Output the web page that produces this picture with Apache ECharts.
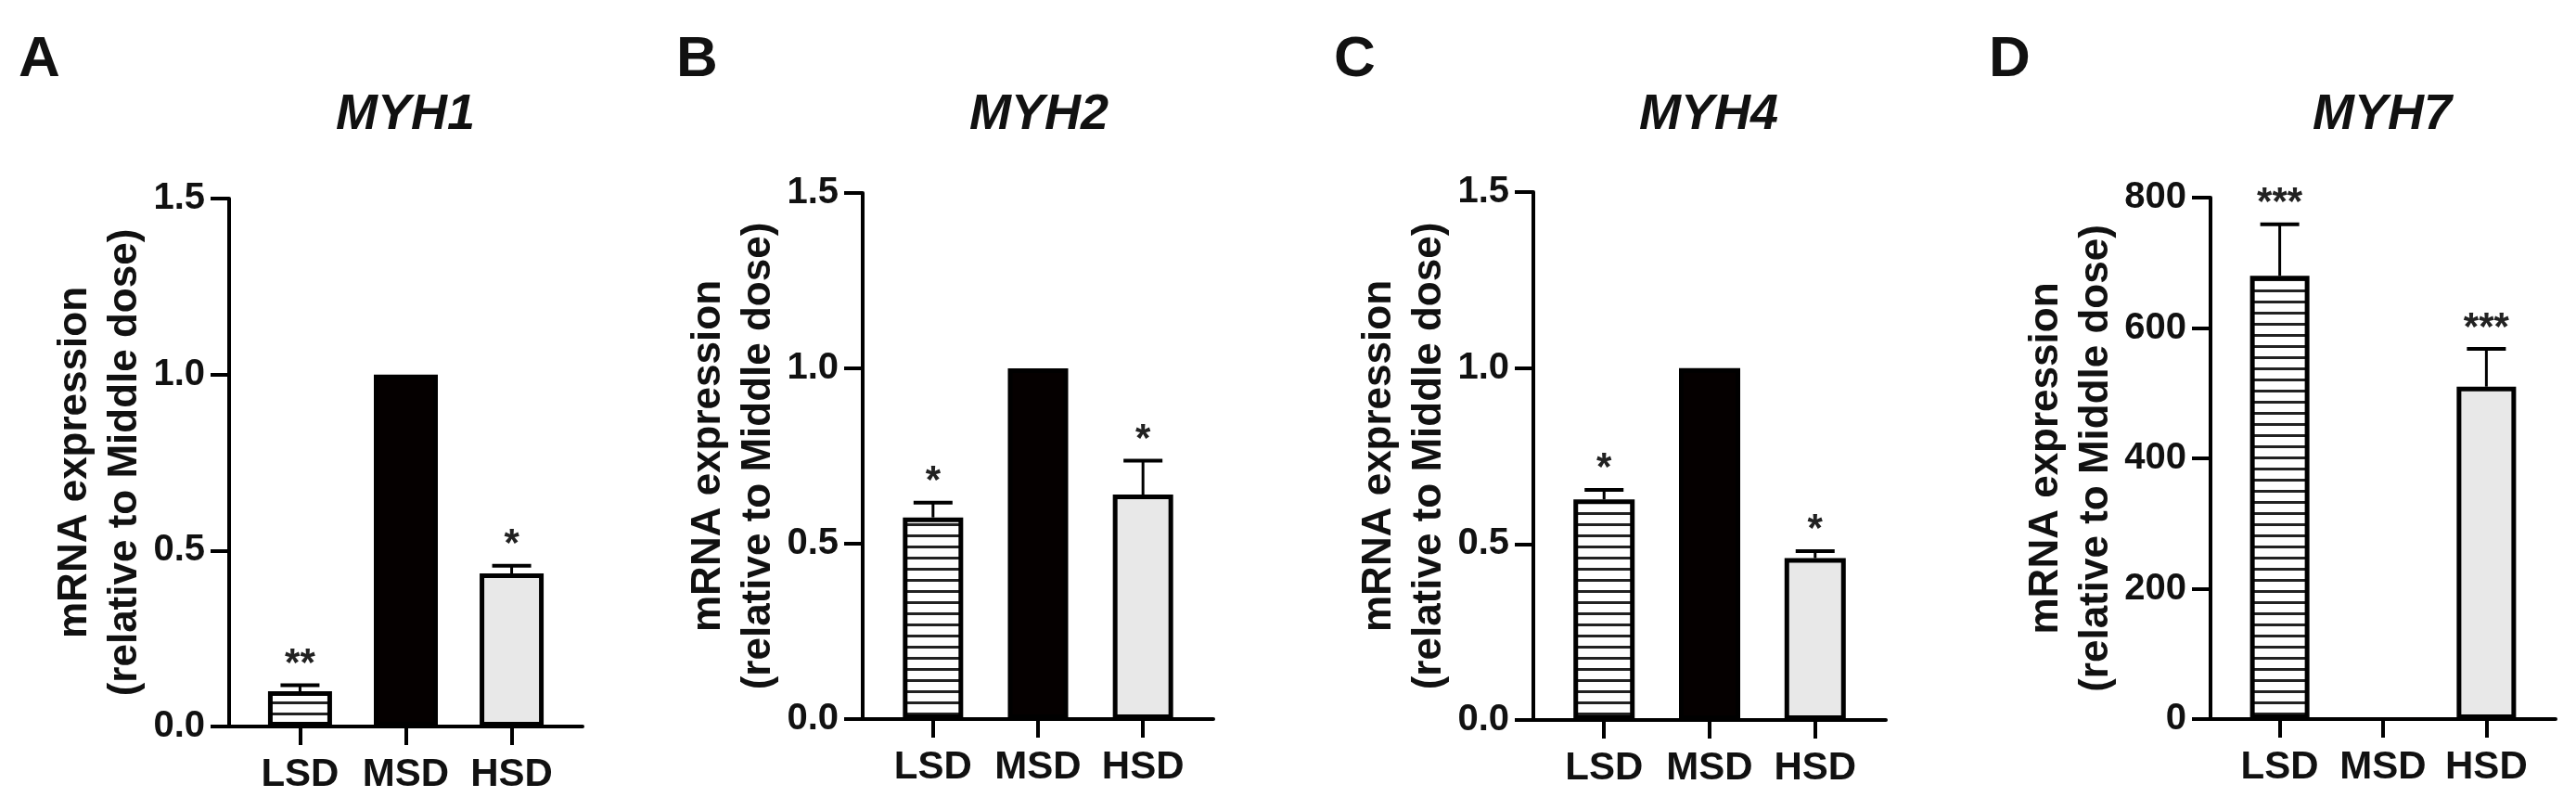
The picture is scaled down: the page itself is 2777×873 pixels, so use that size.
<!DOCTYPE html>
<html>
<head>
<meta charset="utf-8">
<script src="https://cdn.jsdelivr.net/npm/echarts@6/dist/echarts.min.js"></script>
<style>
  html, body { margin: 0; padding: 0; background: #fff; }
  #main { width: 2777px; height: 873px; }
</style>
</head>
<body>
<div id="main"></div>
<script>
// categories and values
var groups = ['LSD', 'MSD', 'HSD'];
var genes = ['MYH1', 'MYH2', 'MYH4', 'MYH7'];
var letters = ['A', 'B', 'C', 'D'];

var myh1Mean = [0.10, 1.0, 0.435];
var myh1Sem = [0.017, 0, 0.022];
var myh1Sig = ['**', '', '*'];

var myh2Mean = [0.575, 1.0, 0.64];
var myh2Sem = [0.042, 0, 0.097];
var myh2Sig = ['*', '', '*'];

var myh4Mean = [0.627, 1.0, 0.46];
var myh4Sem = [0.027, 0, 0.02];
var myh4Sig = ['*', '', '*'];

var myh7Mean = [680, 1, 510];
var myh7Sem = [79, 0, 58];
var myh7Sig = ['***', '', '***'];

var yMax = [1.5, 1.5, 1.5, 800];
var yStep = [0.5, 0.5, 0.5, 200];

var means = [myh1Mean, myh2Mean, myh4Mean, myh7Mean];
var sems = [myh1Sem, myh2Sem, myh4Sem, myh7Sem];
var sigs = [myh1Sig, myh2Sig, myh4Sig, myh7Sig];

// layout (pixels)
var grids = [
  { left: 247, top: 214, width: 381, height: 569 },
  { left: 930, top: 208, width: 378, height: 567 },
  { left: 1653, top: 207, width: 380, height: 569 },
  { left: 2383, top: 213, width: 372, height: 562 }
];
var barW = [69, 65, 66, 64];
var letterX = [20, 729, 1438, 2144];
var titleX = [437, 1120, 1842, 2568];

var FONT = '"Liberation Sans", Arial, sans-serif';

// horizontal stripe fill for LSD
var stripe = document.createElement('canvas');
stripe.width = 8;
stripe.height = 12;
var sctx = stripe.getContext('2d');
sctx.fillStyle = '#fff';
sctx.fillRect(0, 0, 8, 12);
sctx.fillStyle = '#222';
sctx.fillRect(0, 0, 8, 3);

var fills = [{ image: stripe, repeat: 'repeat' }, '#050000', '#e8e8e8'];

var chart = echarts.init(document.getElementById('main'));

var gridOpt = [], xAxes = [], yAxes = [], series = [], graphics = [];

genes.forEach(function (gene, p) {
  var g = grids[p];
  gridOpt.push({ left: g.left, top: g.top, width: g.width, height: g.height, outerBoundsMode: 'none' });

  xAxes.push({
    type: 'value', gridIndex: p, min: -0.67, max: 2.67,
    splitLine: { show: false },
    axisLine: { show: true, onZero: false, lineStyle: { color: '#000', width: 4 } },
    axisTick: { show: true, customValues: [0, 1, 2], length: 20, lineStyle: { color: '#000', width: 4 } },
    axisLabel: {
      customValues: [0, 1, 2], margin: 31,
      fontSize: 42, fontWeight: 'bold', fontFamily: FONT, color: '#111',
      formatter: function (v) { return groups[Math.round(v)]; }
    }
  });

  yAxes.push({
    type: 'value', gridIndex: p, min: 0, max: yMax[p], interval: yStep[p],
    splitLine: { show: false },
    axisLine: { show: true, onZero: false, lineStyle: { color: '#000', width: 4 } },
    axisTick: { show: true, length: 20, lineStyle: { color: '#000', width: 4 } },
    axisLabel: {
      margin: 26, fontSize: 40, fontWeight: 'bold', fontFamily: FONT, color: '#111',
      formatter: function (v) { return p < 3 ? v.toFixed(1) : String(v); }
    },
    name: 'mRNA expression\n(relative to Middle dose)',
    nameLocation: 'middle', nameRotate: 90, nameGap: 78,
    nameTextStyle: { fontSize: 44, fontWeight: 'bold', fontFamily: FONT, color: '#111', lineHeight: 54 }
  });

  series.push({
    type: 'bar', xAxisIndex: p, yAxisIndex: p, barWidth: barW[p],
    data: means[p].map(function (m, i) {
      return {
        value: [i, m],
        itemStyle: {
          color: fills[i],
          borderColor: '#000',
          borderWidth: m / yMax[p] < 0.01 ? 0 : 5
        }
      };
    })
  });

  series.push({
    type: 'custom', xAxisIndex: p, yAxisIndex: p, z: 5,
    data: means[p].map(function (m, i) { return [i, m, sems[p][i]]; }),
    renderItem: function (params, api) {
      var x = api.value(0), m = api.value(1), e = api.value(2);
      var sig = sigs[p][params.dataIndex];
      var base = api.coord([x, m]);
      var top = api.coord([x, m + e]);
      var kids = [];
      if (e > 0) {
        kids.push({ type: 'line', shape: { x1: base[0], y1: base[1], x2: top[0], y2: top[1] },
          style: { stroke: '#000', lineWidth: 3 } });
        kids.push({ type: 'line', shape: { x1: top[0] - 21, y1: top[1], x2: top[0] + 21, y2: top[1] },
          style: { stroke: '#000', lineWidth: 4 } });
      }
      if (sig) {
        kids.push({ type: 'text', x: top[0], y: top[1] - 22,
          style: { text: sig, fill: '#222', fontSize: 42, fontWeight: 'bold', fontFamily: FONT,
            align: 'center', verticalAlign: 'middle' } });
      }
      return { type: 'group', children: kids };
    }
  });

  graphics.push({
    type: 'text', left: letterX[p], top: 34,
    style: { text: letters[p], fontSize: 62, fontWeight: 'bold', fontFamily: FONT, fill: '#111' }
  });
  graphics.push({
    type: 'text', x: titleX[p], y: 124,
    style: { text: gene, fontSize: 54, fontWeight: 'bold', fontStyle: 'italic', fontFamily: FONT,
      fill: '#111', align: 'center', verticalAlign: 'middle' }
  });
});

chart.setOption({
  backgroundColor: '#fff',
  animation: false,
  grid: gridOpt,
  xAxis: xAxes,
  yAxis: yAxes,
  series: series,
  graphic: graphics
});
</script>
</body>
</html>
